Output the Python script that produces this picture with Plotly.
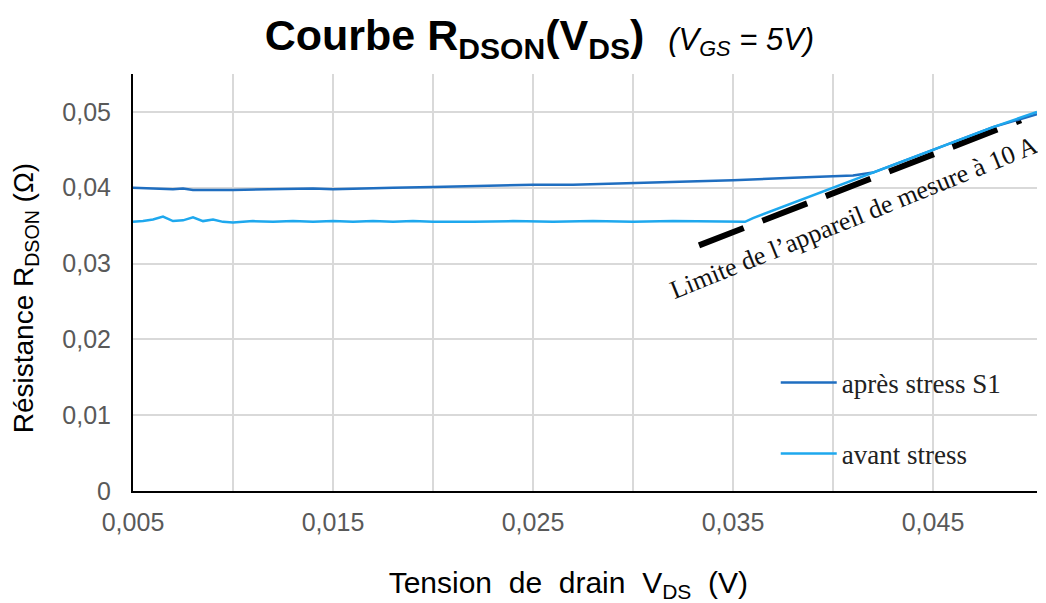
import plotly.graph_objects as go

# tension de drain (V) et resistance (ohm) - avant stress
vds_avant = [0.005, 0.0055, 0.006, 0.0065, 0.007, 0.0075, 0.008, 0.0085, 0.009, 0.0095,
             0.010, 0.011, 0.012, 0.013, 0.014, 0.015, 0.016, 0.017, 0.018, 0.019,
             0.020, 0.022, 0.024, 0.026, 0.028, 0.030, 0.032, 0.034, 0.0356,
             0.036, 0.037, 0.038, 0.039, 0.040, 0.042, 0.044, 0.046, 0.048, 0.0502]
r_avant = [0.0355, 0.0356, 0.0358, 0.0362, 0.0356, 0.0357, 0.0361, 0.0356, 0.0358, 0.0355,
           0.0354, 0.0356, 0.0355, 0.0356, 0.0355, 0.0356, 0.0355, 0.0356, 0.0355, 0.0356,
           0.0355, 0.0355, 0.0356, 0.0355, 0.0356, 0.0355, 0.0356, 0.0355, 0.0355,
           0.0360, 0.0370, 0.0380, 0.0390, 0.0400, 0.0420, 0.0440, 0.0460, 0.0480, 0.0500]

# apres stress S1
vds_apres = [0.005, 0.006, 0.007, 0.0075, 0.008, 0.010, 0.012, 0.013, 0.014, 0.015,
             0.016, 0.018, 0.020, 0.022, 0.025, 0.027, 0.030, 0.032, 0.035, 0.038,
             0.040, 0.041, 0.042, 0.044, 0.046, 0.048, 0.0502]
r_apres = [0.0400, 0.0399, 0.0398, 0.0399, 0.0397, 0.0397, 0.0398, 0.0398, 0.0399, 0.0398,
           0.0399, 0.0400, 0.0401, 0.0402, 0.0404, 0.0404, 0.0406, 0.0408, 0.0410, 0.0413,
           0.0415, 0.0416, 0.0420, 0.0440, 0.0460, 0.0480, 0.0497]

# limite de l'appareil (droite en pointilles)
vds_limite = [0.0333, 0.0494]
r_limite = [0.0324, 0.0489]

x_ticks = [0.005, 0.010, 0.015, 0.020, 0.025, 0.030, 0.035, 0.040, 0.045]
x_labels = ["0,005", "", "0,015", "", "0,025", "", "0,035", "", "0,045"]
y_ticks = [0, 0.01, 0.02, 0.03, 0.04, 0.05]
y_labels = ["0", "0,01", "0,02", "0,03", "0,04", "0,05"]

fig = go.Figure()

fig.add_trace(go.Scatter(
    x=vds_limite, y=r_limite, mode="lines", showlegend=False,
    line=dict(color="black", width=6, dash="48px,20px"),
))
fig.add_trace(go.Scatter(
    x=vds_apres, y=r_apres, mode="lines", name="après stress S1",
    legendgroup="a", line=dict(color="#1F6EC0", width=2.5),
))
fig.add_trace(go.Scatter(
    x=vds_avant, y=r_avant, mode="lines", name="avant stress",
    legendgroup="b", line=dict(color="#1EA8EE", width=2.5),
))

fig.add_annotation(
    x=0.04105, y=0.0361, xref="x", yref="y", showarrow=False,
    text="Limite de l’appareil de mesure à 10 A", textangle=-22,
    font=dict(family="Liberation Serif", size=26, color="#111111"),
)

nb = "\u00a0"
zw = "\u200b"  # empeche le trim des espaces de fin

# la page html ajoute une marge de 8 px autour de la figure
fig.update_layout(
    width=1038, height=595,
    margin=dict(l=125, r=9, t=66, b=112),
    plot_bgcolor="white", paper_bgcolor="white",
    font=dict(family="Liberation Sans", color="#595959"),
    title=dict(
        text="<b>Courbe R<sub>DSON</sub>(V<sub>DS</sub>)</b>" + nb * 2 +
             "<span style='font-size:31px'><i>(V<sub>GS</sub> = 5V)</i></span>",
        x=0.512, xanchor="center", xref="container", y=0.955, yanchor="middle",
        font=dict(family="Liberation Sans", size=43, color="black"),
    ),
    xaxis=dict(
        range=[0.005, 0.0502], tickvals=x_ticks, ticktext=x_labels,
        showgrid=True, gridcolor="#D9D9D9", gridwidth=1.5, zeroline=False,
        showline=True, linecolor="black", linewidth=2, automargin=False,
        ticks="outside", ticklen=8, tickcolor="rgba(0,0,0,0)",
        tickfont=dict(size=25, color="#595959"),
        title=dict(text="Tension" + nb * 2 + "de" + nb * 2 + "drain" + nb * 2 +
                        "V<sub>DS</sub>" + nb * 2 + "(V)" + nb * 4 + zw,
                   standoff=41, font=dict(size=30, color="black")),
    ),
    yaxis=dict(
        range=[0, 0.055], tickvals=y_ticks, ticktext=y_labels,
        showgrid=True, gridcolor="#D9D9D9", gridwidth=1.5, zeroline=False,
        showline=True, linecolor="black", linewidth=2, automargin=False,
        ticks="outside", ticklen=15, tickcolor="rgba(0,0,0,0)",
        tickfont=dict(size=25, color="#595959"),
        title=dict(text="Résistance R<sub>DSON</sub> (Ω)" + nb * 4 + zw, standoff=24,
                   font=dict(size=28, color="black")),
    ),
    legend=dict(
        x=0.711, y=0.318, xanchor="left", yanchor="top", itemwidth=56,
        bgcolor="rgba(0,0,0,0)", tracegroupgap=33,
        font=dict(family="Liberation Serif", size=27, color="#222222"),
    ),
)

fig.write_html("out.html")
